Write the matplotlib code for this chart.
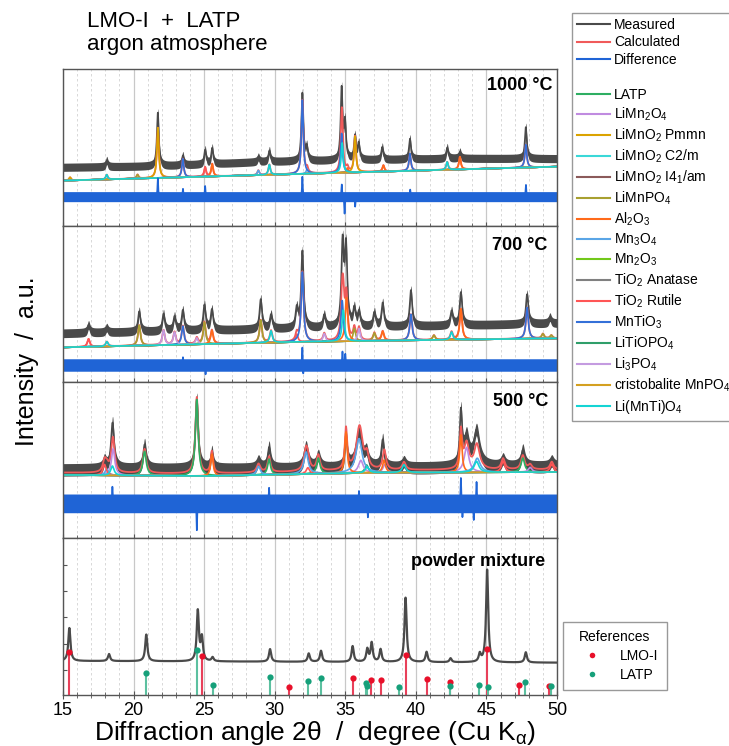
import numpy as np
import matplotlib.pyplot as plt
from matplotlib.lines import Line2D

plt.rcParams['font.family'] = ['Liberation Sans', 'DejaVu Sans']
plt.rcParams['mathtext.fontset'] = 'custom'
plt.rcParams['mathtext.rm'] = 'Liberation Sans'
plt.rcParams['mathtext.it'] = 'Liberation Sans:italic'
plt.rcParams['mathtext.bf'] = 'Liberation Sans:bold'

# phases in legend order: key, label, colour
phase_keys = ['LATP', 'LiMn2O4', 'Pmmn', 'C2m', 'I41am', 'LiMnPO4', 'Al2O3', 'Mn3O4',
              'Mn2O3', 'Anatase', 'Rutile', 'MnTiO3', 'LiTiOPO4', 'Li3PO4', 'MnPO4', 'LiMnTiO4']
phase_labels = ['LATP', 'LiMn$_2$O$_4$', 'LiMnO$_2$ Pmmn', 'LiMnO$_2$ C2/m', 'LiMnO$_2$ I4$_1$/am',
                'LiMnPO$_4$', 'Al$_2$O$_3$', 'Mn$_3$O$_4$', 'Mn$_2$O$_3$', 'TiO$_2$ Anatase',
                'TiO$_2$ Rutile', 'MnTiO$_3$', 'LiTiOPO$_4$', 'Li$_3$PO$_4$', 'cristobalite MnPO$_4$',
                'Li(MnTi)O$_4$']
phase_colors = ['#2eae62', '#c08be0', '#dba300', '#3ad8d8', '#8b5a5a', '#a8a030', '#ff6a1a', '#5aa5e6',
                '#72c81a', '#808080', '#ff5555', '#3470d8', '#2f9e6a', '#c49be0', '#d4a020', '#14d4d4']

# ---- 1000 °C ----
meas1000_bg_x = [15, 22, 29, 36, 43, 50]
meas1000_bg_y = [37.4, 38.2, 40.9, 42.0, 43.1, 42.9]
meas1000_peaks = [(18.1, 4), (21.72, 34), (23.49, 6), (25.07, 9), (25.57, 10), (28.84, 3), (29.62, 7),
                  (31.96, 43), (32.27, 8), (34.74, 45), (34.98, 23), (35.69, 15), (35.95, 10),
                  (37.62, 8), (39.58, 13), (42.22, 7), (43.12, 4), (47.79, 20)]
phase1000_bg_x = [15, 50]
phase1000_bg_y = [28.9, 37.8]
phase1000_peaks = [('Pmmn', 21.72, 32), ('Pmmn', 35.69, 23), ('Pmmn', 15.5, 2), ('MnTiO3', 23.49, 11.8),
                   ('MnTiO3', 31.96, 47), ('MnTiO3', 34.74, 25), ('MnTiO3', 39.58, 11),
                   ('MnTiO3', 47.79, 14.6), ('Mn3O4', 28.84, 3), ('Mn3O4', 32.3, 3),
                   ('LiMnTiO4', 18.1, 3), ('LiMnTiO4', 29.62, 6.5), ('LiMnTiO4', 34.78, 19),
                   ('LiMnTiO4', 42.22, 5), ('Al2O3', 25.57, 8), ('Al2O3', 35.15, 3), ('Al2O3', 37.7, 4),
                   ('Al2O3', 43.12, 8), ('Rutile', 25.07, 6), ('LiMnPO4', 20.28, 2.5)]
diff1000_level = 18.7
diff1000_spikes = [(21.72, 11.8), (23.5, 5), (25.07, 6.8), (31.96, 12.7), (34.75, 8), (34.95, -11),
                   (35.7, -6.4), (39.6, 4.5), (47.8, 7.5)]

# ---- 700 °C ----
meas700_bg_x = [15, 32, 50]
meas700_bg_y = [31.2, 34.4, 37.6]
meas700_peaks = [(16.81, 5), (18.1, 3), (20.40, 13), (22.12, 11), (22.90, 9), (23.49, 13), (25.02, 16),
                 (25.55, 13), (29.01, 19), (29.74, 9), (31.56, 12), (31.96, 49), (33.51, 8),
                 (34.81, 52), (35.05, 49), (35.64, 11), (35.97, 9), (37.06, 9), (37.65, 15),
                 (39.65, 23), (42.53, 9), (43.19, 21), (47.88, 19), (49.5, 4)]
phase700_bg_x = [15, 32, 50]
phase700_bg_y = [22.2, 25.8, 28.0]
phase700_peaks = [('Rutile', 16.81, 5), ('LiMnTiO4', 18.11, 3), ('LiMnPO4', 20.40, 13),
                  ('Li3PO4', 22.12, 9.5), ('Li3PO4', 22.90, 8), ('MnTiO3', 23.49, 11.8),
                  ('Li3PO4', 24.48, 4), ('LiMnPO4', 25.02, 14), ('Al2O3', 25.55, 8.6),
                  ('LiMnPO4', 29.01, 14.5), ('LiMnTiO4', 29.74, 7.5), ('Rutile', 31.56, 5),
                  ('MnTiO3', 31.96, 44.7), ('Li3PO4', 33.51, 5), ('MnTiO3', 34.78, 26),
                  ('LiMnTiO4', 34.86, 20), ('Al2O3', 35.08, 28), ('LiMnPO4', 35.64, 8),
                  ('Li3PO4', 35.97, 8), ('LiMnPO4', 37.06, 5), ('Al2O3', 37.65, 6), ('MnTiO3', 39.65, 16.6),
                  ('LiMnPO4', 41.28, 3), ('LiMnTiO4', 42.53, 5), ('Al2O3', 43.19, 19.7),
                  ('MnTiO3', 47.88, 20), ('LiMnPO4', 49.0, 3), ('LiMnPO4', 49.6, 2)]
diff700_level = 10.9
diff700_spikes = [(31.96, 12.8), (32.02, -8), (34.8, 8.5), (35.0, 7), (25.1, -6), (23.5, 5)]

# ---- 500 °C ----
meas500_bg_x = [15, 32, 50]
meas500_bg_y = [43.6, 44.0, 45.3]
meas500_peaks = [(17.94, 5, .12), (18.51, 30, .13), (20.78, 16, .13), (24.48, 45, .12), (25.55, 11, .1),
                 (28.85, 5, .15), (29.60, 14, .12), (32.22, 14, .18), (33.09, 8, .15), (35.05, 20, .1),
                 (35.97, 23, .25), (36.5, 8, .15), (37.65, 18, .12), (39.16, 4, .15), (43.19, 34, .1),
                 (43.59, 18, .2), (44.3, 23, .25), (46.18, 5, .15), (47.58, 11, .15), (49.63, 4, .15)]
phase500_bg_x = [15, 25, 37, 50]
phase500_bg_y = [40.4, 39.7, 41.9, 42.3]
calc500_offset = 1.5
phase500_peaks = [('Rutile', 17.94, 7, .14), ('LiMn2O4', 18.55, 17, .14), ('LiMnTiO4', 18.5, 6, .14),
                  ('Mn3O4', 18.1, 4, .14), ('LATP', 20.78, 15.5, .14), ('LATP', 24.48, 49, .12),
                  ('Al2O3', 25.55, 14, .1), ('Mn3O4', 28.85, 5.5, .15), ('LATP', 29.60, 10, .12),
                  ('Mn3O4', 32.22, 14, .18), ('Rutile', 32.35, 4, .14), ('LATP', 33.09, 10, .14),
                  ('Al2O3', 35.05, 26.5, .1), ('Mn3O4', 35.97, 22, .25), ('LiMn2O4', 36.1, 8, .2),
                  ('LATP', 36.51, 5, .14), ('LiMnTiO4', 36.55, 4, .14), ('Al2O3', 37.75, 8, .12),
                  ('LiMn2O4', 37.8, 5, .15), ('LiMnTiO4', 39.16, 5, .15), ('Al2O3', 43.19, 24, .1),
                  ('LiMn2O4', 43.59, 16, .2), ('Mn3O4', 44.35, 9, .25), ('LiMnTiO4', 44.3, 7, .2),
                  ('Rutile', 46.18, 7, .15), ('LATP', 47.58, 9, .15), ('LiMn2O4', 48.1, 3, .15),
                  ('Rutile', 49.63, 5, .15)]
diff500_level = 22.2
diff500_spikes = [(18.5, 10.7), (24.48, -18), (24.4, 6), (29.6, 10), (35.97, 8), (36.6, -9),
                  (43.19, 17), (43.3, -10), (44.3, 14), (44.1, -11)]

# ---- powder mixture ----
powder_bg_x = [15, 30, 50]
powder_bg_y = [21.7, 21.2, 20.6]
powder_peaks = [(15.45, 21), (18.26, 4.5), (20.9, 17), (24.55, 32), (24.84, 14.5), (25.6, 2.5),
                (29.67, 8), (32.41, 5.3), (33.28, 7), (35.52, 10), (36.56, 8), (36.87, 12), (37.5, 8),
                (39.27, 41), (40.76, 6.5), (42.46, 2.5), (44.53, 5), (45.05, 59), (47.79, 6.5)]

# reference patterns (stick positions / heights)
lmo_pos = [15.4, 24.84, 31.04, 35.52, 36.83, 37.54, 39.27, 40.76, 42.41, 45.03, 47.3, 49.42]
lmo_int = [27.6, 24.8, 5.3, 10.6, 9.3, 9.3, 25.5, 10, 8.1, 29, 6.6, 5.5]
latp_pos = [20.9, 24.5, 25.6, 29.67, 32.37, 33.27, 36.5, 36.55, 38.82, 42.45, 44.46, 45.12, 47.72, 49.6]
latp_int = [14, 28.7, 6.4, 11.7, 8.9, 11, 7.4, 6.0, 5.3, 5.7, 6.4, 5.3, 8.1, 5.7]

x = np.arange(15, 50.0001, 0.01)


def lorentz(peaks, w):
    y = np.zeros_like(x)
    for pk in peaks:
        p, a = pk[0], pk[1]
        ww = pk[2] if len(pk) > 2 else w
        y += a / (1 + ((x - p) / ww) ** 2)
    return y


def phase_curve(peaks, key, w):
    sel = [pk[1:] for pk in peaks if pk[0] == key]
    return lorentz(sel, w)


fig = plt.figure(figsize=(7.29, 7.46), dpi=100)
tops = [69, 226, 382, 538]
bots = [226, 382, 538, 695]
L, W = 63 / 729, 494 / 729
axs = [fig.add_axes([L, 1 - b / 746, W, (b - t) / 746]) for t, b in zip(tops, bots)]

meas_c = '#4a4a4a'
calc_c = '#f05a5a'
diff_c = '#1f64d6'

# bg, peaks, phase bg, phase peaks, calc offset, diff level/spikes, peak width,
# measured band half-width, difference band half-width, label, label x/y (px)
panels = [
    (meas1000_bg_x, meas1000_bg_y, meas1000_peaks, phase1000_bg_x, phase1000_bg_y, phase1000_peaks,
     0.0, diff1000_level, diff1000_spikes, 0.08, 2.6, 3.2, '1000 °C', 553, 77),
    (meas700_bg_x, meas700_bg_y, meas700_peaks, phase700_bg_x, phase700_bg_y, phase700_peaks,
     0.0, diff700_level, diff700_spikes, 0.1, 2.8, 4.0, '700 °C', 547, 237),
    (meas500_bg_x, meas500_bg_y, meas500_peaks, phase500_bg_x, phase500_bg_y, phase500_peaks,
     calc500_offset, diff500_level, diff500_spikes, 0.14, 4.0, 6.0, '500 °C', 548, 393),
]

for i, (ax, pn) in enumerate(zip(axs[:3], panels)):
    (mbx, mby, mpk, pbx, pby, ppk, coff, dlev, dsp, w, mhw, dhw, lab, lx, ly) = pn
    bg = np.interp(x, pbx, pby)
    meas = np.interp(x, mbx, mby) + lorentz(mpk, w)
    ax.fill_between(x, meas - mhw, meas + mhw, color=meas_c, lw=0)
    ax.plot(x, meas, color=meas_c, lw=1.2)
    calc = bg + coff + lorentz([pk[1:] for pk in ppk], w)
    ax.plot(x, calc, color=calc_c, lw=1.3)
    for key, col in zip(phase_keys, phase_colors):
        ax.plot(x, bg + phase_curve(ppk, key, w), color=col, lw=1.2)
    ax.fill_between(x, dlev - dhw, dlev + dhw, color=diff_c, lw=0)
    ax.plot(x, dlev + lorentz(dsp, 0.03), color=diff_c, lw=1.2)
    ax.text((lx - 63) / 494, 1 - (ly - tops[i]) / (bots[i] - tops[i]),
            lab, transform=ax.transAxes, ha='right', va='top', fontsize=13, fontweight='bold')

# powder mixture panel
ax = axs[3]
ax.plot(x, np.interp(x, powder_bg_x, powder_bg_y) + lorentz(powder_peaks, 0.09), color=meas_c, lw=1.6)
ax.vlines(lmo_pos, 0, lmo_int, color='#e8405a', lw=1.5)
ax.vlines(latp_pos, 0, latp_int, color='#5cc0a0', lw=1.5)
ax.plot(lmo_pos, lmo_int, 'o', color='#e8102a', ms=4.5, mec='none')
ax.plot(latp_pos, latp_int, 'o', color='#16a07a', ms=4.5, mec='none')
ax.text((545 - 63) / 494, 1 - (553 - 538) / 157, 'powder mixture', transform=ax.transAxes,
        ha='right', va='top', fontsize=13, fontweight='bold')
ax.set_yticks([16, 32.7, 49.4, 66, 82.8])
ax.tick_params(axis='y', direction='in', length=3, labelleft=False, color='#555555')

for i, ax in enumerate(axs):
    ax.set_xlim(15, 50)
    ax.set_ylim(0, 100)
    ax.set_xticks(np.arange(15, 51, 5))
    ax.set_xticks(np.arange(15, 51, 1), minor=True)
    ax.grid(True, which='major', axis='x', color='#c8c8c8', lw=0.9)
    ax.grid(True, which='minor', axis='x', color='#d2d2d2', lw=0.6, ls=(0, (3, 3)))
    ax.set_axisbelow(True)
    ax.tick_params(axis='x', which='major', direction='inout', length=6, color='#555555',
                   labelsize=13, labelbottom=(i == 3), pad=2)
    ax.tick_params(axis='x', which='minor', direction='inout', length=4, color='#555555')
    if i < 3:
        ax.set_yticks([])
    for s in ax.spines.values():
        s.set_color('#555555')
        s.set_linewidth(1.0)

axs[3].set_xlabel(r'Diffraction angle 2θ  /  degree (Cu K$_\mathregular{α}$)', fontsize=19)
axs[3].xaxis.set_label_coords((315 - 63) / 494, -0.155)
fig.text(27 / 729, 1 - 361 / 746, 'Intensity  /  a.u.', rotation=90, ha='center', va='center', fontsize=18)
fig.text(87 / 729, 1 - 11 / 746, 'LMO-I  +  LATP\nargon atmosphere', ha='left', va='top', fontsize=16,
         linespacing=1.1)

# main legend
h = [Line2D([], [], color=meas_c, lw=1.5), Line2D([], [], color=calc_c, lw=1.5),
     Line2D([], [], color=diff_c, lw=1.5), Line2D([], [], color='none')]
lbl = ['Measured', 'Calculated', 'Difference', ' ']
for c, l in zip(phase_colors, phase_labels):
    h.append(Line2D([], [], color=c, lw=1.5))
    lbl.append(l)
fig.legend(h, lbl, loc='upper left', bbox_to_anchor=(572 / 729, 1 - 13 / 746), fontsize=10,
           handlelength=2.4, handletextpad=0.3, labelspacing=0.26, borderpad=0.35, borderaxespad=0,
           frameon=True, fancybox=False, edgecolor='#999999', framealpha=1)

# references legend
rh = [Line2D([], [], ls='none', marker='o', ms=4, color='#e8102a', mec='none'),
      Line2D([], [], ls='none', marker='o', ms=4, color='#16a07a', mec='none')]
fig.legend(rh, ['LMO-I', 'LATP'], title='References', loc='upper left',
           bbox_to_anchor=(563 / 729, 1 - 622 / 746), fontsize=10, title_fontsize=10,
           handlelength=3.0, handletextpad=0.5, labelspacing=0.35, borderpad=0.6, borderaxespad=0,
           frameon=True, fancybox=False, edgecolor='#999999', framealpha=1)

fig.savefig('out.png', dpi=100)
